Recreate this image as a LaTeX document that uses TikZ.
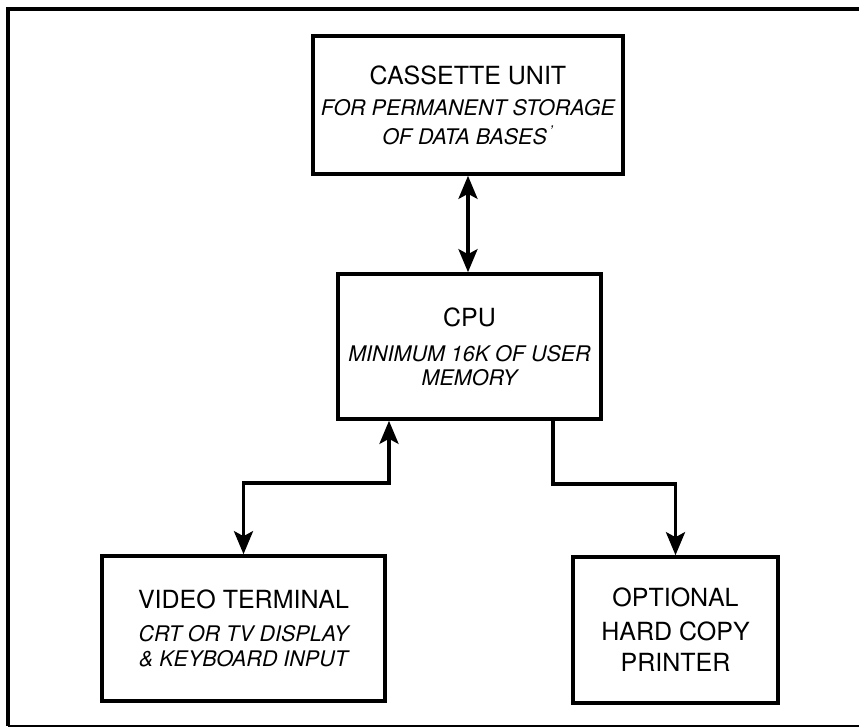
\documentclass[tikz,border=0pt]{standalone}
\usepackage{fontspec}
\setmainfont{TeX Gyre Heros}
\usetikzlibrary{arrows.meta}
\newcommand{\boxnote}[1]{{\fontsize{10.75}{13}\selectfont\itshape #1}}

\begin{document}
\begin{tikzpicture}[x=0.5pt, y=-0.5pt, >={Stealth[length=11.5pt,width=9.5pt,inset=2.5pt]},
  box/.style={draw, line width=1.8pt, align=center, inner sep=0pt, font=\fontsize{12.5}{16}\selectfont},
  link/.style={line width=1.8pt}]
\useasboundingbox (0,0) rectangle (859,728);
\draw[line width=1.6pt] (859,9) -- (8,9) -- (8,726);
\draw[line width=0.8pt] (8,726) -- (859,726);

\node[box, minimum width=155pt, minimum height=69pt] (cass) at (468,105)
  {CASSETTE UNIT\\[-0.5pt]\boxnote{FOR PERMANENT STORAGE}\\[-1.5pt]\boxnote{OF DATA BASES\textsuperscript{\,'}}};
\node[box, minimum width=131.5pt, minimum height=72.5pt] (cpu) at (469.5,346.5)
  {CPU\\[1.5pt]\boxnote{MINIMUM 16K OF USER}\\[-4pt]\boxnote{MEMORY}};
\node[box, minimum width=141.5pt, minimum height=72.5pt] (video) at (243.5,628.5)
  {VIDEO TERMINAL\\[0.5pt]\boxnote{CRT OR TV DISPLAY}\\[-3.5pt]\boxnote{\& KEYBOARD INPUT}};
\node[box, minimum width=102.5pt, minimum height=73pt] (printer) at (675.5,630)
  {OPTIONAL\\[1pt]HARD COPY\\[-0.5pt]PRINTER};

\coordinate (vbus) at (389,483);
\coordinate (pbus) at (553,484);

\draw[link,<->] (cass.south) -- (cass.south |- cpu.north);
\draw[link,<->] (vbus |- cpu.south) -- (vbus) -| (video.north);
\draw[link,->] (pbus |- cpu.south) -- (pbus) -| (printer.north);
\end{tikzpicture}
\end{document}
